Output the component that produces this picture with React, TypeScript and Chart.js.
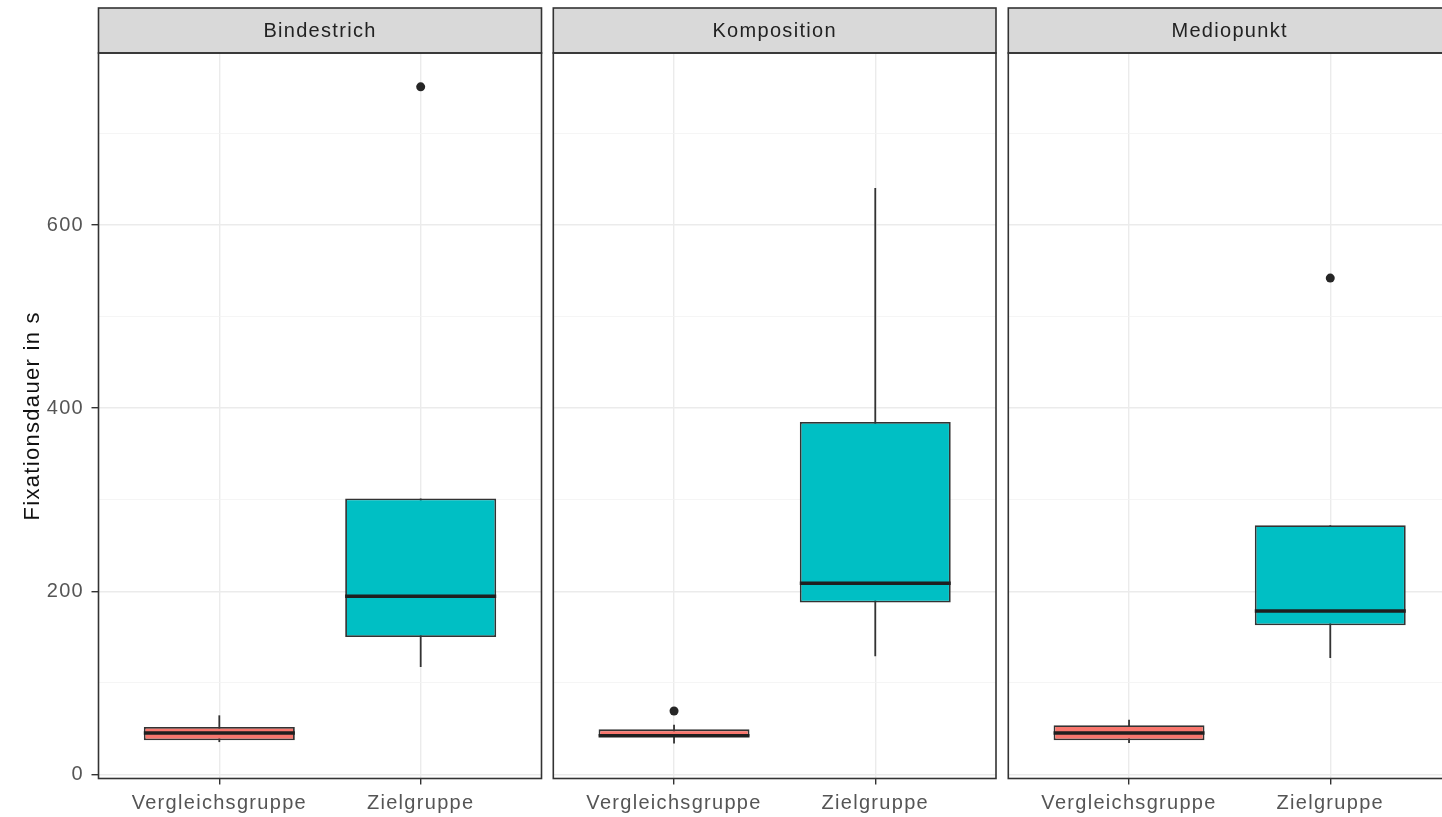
import { useEffect, useRef } from 'react';
import { Chart, registerables } from 'chart.js';

Chart.register(...registerables);

// Facets (one panel each) and the two groups compared inside every panel
const facetNames = ['Bindestrich', 'Komposition', 'Mediopunkt'];
const groupNames = ['Vergleichsgruppe', 'Zielgruppe'];
const groupColors = ['#F8766D', '#00BFC4'];

// Box-plot statistics per facet: [Vergleichsgruppe, Zielgruppe]
const whiskerLow = [[35.3, 117.3], [33.6, 129.0], [34.2, 127.1]];
const quartile1 = [[37.2, 150.1], [41.5, 187.7], [37.2, 162.8]];
const medians = [[45.1, 194.5], [42.3, 208.7], [45.1, 178.5]];
const quartile3 = [[51.7, 301.3], [49.2, 385.0], [53.6, 272.1]];
const whiskerHigh = [[64.5, 301.3], [54.3, 640.4], [59.8, 272.1]];
const outliers = [[[], [751.0]], [[69.2], []], [[], [542.1]]];

// Y axis
const majorTicks = [0, 200, 400, 600];
const minorTicks = [100, 300, 500, 700];
const yRange = [-4.5, 788];
const xRange = [0.4, 2.6];
const yTitle = 'Fixationsdauer in s';

const FONT = '"Liberation Sans", Arial, Helvetica, sans-serif';
const SPACING = '1.3px';
const HEIGHT = 817;
const STRIP_TOP = 8;
const PANEL_TOP = 53;
const PANEL_BOTTOM = 778.5;

// canvas placement of each facet panel
const panelGeometry = [
  { left: 0, width: 548, padL: 0, axisW: 98.5, padR: 6.5 },
  { left: 548, width: 455, padL: 5.3, axisW: 0, padR: 7 },
  { left: 1003, width: 455, padL: 5.3, axisW: 0, padR: 7 },
];

function FacetPanel({ index }: { index: number }) {
  const ref = useRef<HTMLCanvasElement>(null);

  useEffect(() => {
    const geo = panelGeometry[index];
    const first = index === 0;

    const boxData = groupNames.map((_, g) => ({
      x: g + 1,
      y: [quartile1[index][g], quartile3[index][g]],
    }));
    const outlierData = outliers[index].flatMap((vals, g) =>
      vals.map((v) => ({ x: g + 1, y: v }))
    );

    const spacingPlugin = {
      id: 'letterSpacing',
      beforeUpdate(chart: any) {
        chart.ctx.letterSpacing = SPACING;
      },
      beforeDraw(chart: any) {
        chart.ctx.letterSpacing = SPACING;
      },
    };

    // whiskers behind the boxes, medians on top of them
    const boxplotPlugin = {
      id: 'boxplotParts',
      beforeDatasetsDraw(chart: any) {
        const { ctx, scales } = chart;
        ctx.save();
        ctx.strokeStyle = '#333333';
        ctx.lineWidth = 1.8;
        groupNames.forEach((_, g) => {
          const x = scales.x.getPixelForValue(g + 1);
          ctx.beginPath();
          ctx.moveTo(x, scales.y.getPixelForValue(whiskerLow[index][g]));
          ctx.lineTo(x, scales.y.getPixelForValue(whiskerHigh[index][g]));
          ctx.stroke();
        });
        ctx.restore();
      },
      afterDatasetsDraw(chart: any) {
        const { ctx, scales } = chart;
        const meta = chart.getDatasetMeta(0);
        ctx.save();
        ctx.strokeStyle = '#1f1f1f';
        ctx.lineWidth = 3.5;
        groupNames.forEach((_, g) => {
          const bar = meta.data[g];
          const y = scales.y.getPixelForValue(medians[index][g]);
          ctx.beginPath();
          ctx.moveTo(bar.x - bar.width / 2, y);
          ctx.lineTo(bar.x + bar.width / 2, y);
          ctx.stroke();
        });
        ctx.restore();
      },
    };

    // facet strip and panel border
    const framePlugin = {
      id: 'facetFrame',
      afterDraw(chart: any) {
        const { ctx, chartArea } = chart;
        const { left, right, top, bottom } = chartArea;
        ctx.save();
        ctx.fillStyle = '#D9D9D9';
        ctx.fillRect(left, STRIP_TOP, right - left, top - STRIP_TOP);
        ctx.strokeStyle = '#333333';
        ctx.lineWidth = 1.6;
        ctx.strokeRect(left, STRIP_TOP, right - left, top - STRIP_TOP);
        ctx.strokeRect(left, top, right - left, bottom - top);
        ctx.letterSpacing = SPACING;
        ctx.fillStyle = '#222222';
        ctx.font = `20px ${FONT}`;
        ctx.textAlign = 'center';
        ctx.textBaseline = 'middle';
        ctx.fillText(facetNames[index], (left + right) / 2, (STRIP_TOP + top) / 2 + 1);
        ctx.restore();
      },
    };

    const isMajor = (v: number) => majorTicks.includes(v);

    const chart = new Chart(ref.current as HTMLCanvasElement, {
      type: 'bar',
      data: {
        datasets: [
          {
            type: 'bar',
            data: boxData as any,
            backgroundColor: groupColors,
            borderColor: '#333333',
            borderWidth: 1.8,
            borderSkipped: false,
            categoryPercentage: 0.75,
            barPercentage: 1,
            grouped: false,
          } as any,
          {
            type: 'scatter',
            data: outlierData,
            pointRadius: 4.5,
            pointBackgroundColor: '#262626',
            pointBorderWidth: 0,
          } as any,
        ],
      },
      options: {
        responsive: false,
        devicePixelRatio: 1,
        animation: false,
        events: [],
        layout: { padding: { top: PANEL_TOP, left: geo.padL, right: geo.padR, bottom: 0 } },
        plugins: {
          legend: { display: false },
          tooltip: { enabled: false },
        },
        scales: {
          x: {
            type: 'linear',
            min: xRange[0],
            max: xRange[1],
            offset: false,
            afterBuildTicks: (s: any) => {
              s.ticks = groupNames.map((_, i) => ({ value: i + 1 }));
            },
            afterFit: (s: any) => {
              s.height = HEIGHT - PANEL_BOTTOM;
              s.paddingLeft = 0;
              s.paddingRight = 0;
            },
            grid: {
              offset: false,
              color: '#EBEBEB',
              lineWidth: 1.4,
              tickColor: '#333333',
              tickLength: 6,
            },
            border: { display: false },
            ticks: {
              autoSkip: false,
              maxRotation: 0,
              padding: 7,
              color: '#555555',
              font: { family: FONT, size: 20 },
              callback: (v: any) => groupNames[Number(v) - 1] ?? '',
            },
          },
          y: {
            type: 'linear',
            min: yRange[0],
            max: yRange[1],
            afterBuildTicks: (s: any) => {
              s.ticks = [...majorTicks, ...minorTicks]
                .sort((a, b) => a - b)
                .map((v) => ({ value: v }));
            },
            afterFit: (s: any) => {
              s.width = geo.axisW;
              s.paddingTop = 0;
              s.paddingBottom = 0;
            },
            grid: {
              color: (c: any) => (isMajor(c.tick?.value) ? '#EBEBEB' : '#F3F3F3'),
              lineWidth: (c: any) => (isMajor(c.tick?.value) ? 1.4 : 0.8),
              tickColor: (c: any) => (isMajor(c.tick?.value) ? '#333333' : 'rgba(0,0,0,0)'),
              tickLength: 7,
              drawTicks: first,
            },
            border: { display: false },
            ticks: {
              display: first,
              padding: 7.5,
              color: '#555555',
              font: { family: FONT, size: 20 },
              callback: (v: any) => (isMajor(Number(v)) ? String(v) : ''),
            },
            title: {
              display: first,
              text: yTitle,
              color: '#111111',
              font: { family: FONT, size: 22 },
              padding: { top: 20, bottom: 0 },
            },
          },
        },
      } as any,
      plugins: [spacingPlugin, boxplotPlugin, framePlugin],
    });

    return () => chart.destroy();
  }, [index]);

  const geo = panelGeometry[index];
  return (
    <canvas
      ref={ref}
      width={geo.width}
      height={HEIGHT}
      style={{
        position: 'absolute',
        left: geo.left,
        top: 0,
        width: geo.width,
        height: HEIGHT,
      }}
    />
  );
}

export default function App() {
  return (
    <div
      style={{
        position: 'fixed',
        left: 0,
        top: 0,
        width: 1442,
        height: HEIGHT,
        overflow: 'hidden',
        background: '#ffffff',
      }}
    >
      {facetNames.map((_, i) => (
        <FacetPanel key={i} index={i} />
      ))}
    </div>
  );
}
